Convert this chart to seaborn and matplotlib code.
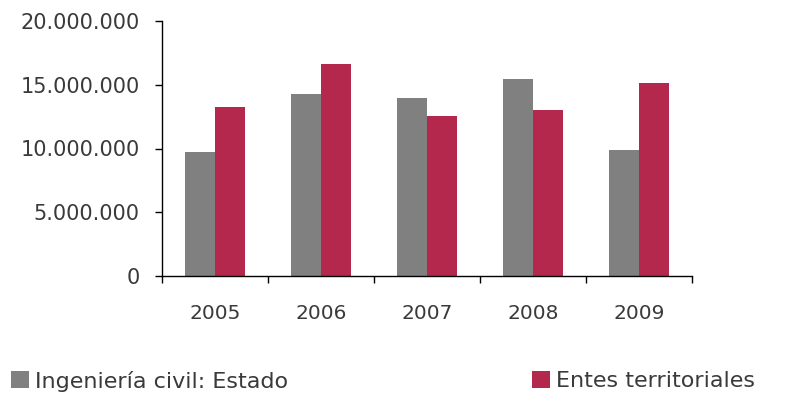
import matplotlib
matplotlib.use("Agg")
import matplotlib.pyplot as plt
import matplotlib.ticker as mticker
import seaborn as sns
import pandas as pd

years = ["2005", "2006", "2007", "2008", "2009"]
estado = [9700000, 14250000, 13960000, 15430000, 9880000]
entes = [13280000, 16630000, 12550000, 13000000, 15140000]
series_names = ["Ingeniería civil: Estado", "Entes territoriales"]
colors = ["#808080", "#B5284D"]

df = pd.DataFrame({
    "year": years * 2,
    "value": estado + entes,
    "serie": [series_names[0]] * len(years) + [series_names[1]] * len(years),
})

sns.set_theme(style="white")
plt.rcParams["font.family"] = ["DejaVu Sans"]

fig = plt.figure(figsize=(7.9, 3.94), dpi=100)
ax = fig.add_axes([162 / 790, 1 - 276 / 394, (692 - 162) / 790, (276 - 21) / 394])

sns.barplot(data=df, x="year", y="value", hue="serie", palette=colors,
            width=0.57, saturation=1, linewidth=0, ax=ax, legend=True)

ax.set_xlim(-0.5, 4.5)
ax.set_ylim(0, 20000000)
ax.set_yticks([0, 5000000, 10000000, 15000000, 20000000])
ax.yaxis.set_major_formatter(mticker.FuncFormatter(lambda v, p: f"{int(v):,}".replace(",", ".")))
ax.set_xlabel("")
ax.set_ylabel("")

for s in ["top", "right"]:
    ax.spines[s].set_visible(False)
for s in ["left", "bottom"]:
    ax.spines[s].set_color("black")
    ax.spines[s].set_linewidth(1.0)

ax.set_xticks([i + 0.5 for i in range(-1, 5)], minor=True)
ax.tick_params(axis="x", which="major", length=0, pad=20, labelsize=14.5, labelcolor="#3a3a3a")
ax.tick_params(axis="x", which="minor", length=5, width=1, color="black", direction="out", bottom=True)
ax.tick_params(axis="y", which="major", length=5, width=1, color="black", direction="out", left=True,
               pad=11, labelsize=15, labelcolor="#3a3a3a")

handles, labels = ax.get_legend_handles_labels()
ax.get_legend().remove()
common = dict(loc="center left", frameon=False, fontsize=16, handlelength=0.8, handleheight=0.8,
              handletextpad=0.3, borderpad=0, borderaxespad=0, labelcolor="#3a3a3a")
fig.legend([handles[0]], [labels[0]], bbox_to_anchor=(11 / 790, 1 - 381 / 394), **common)
fig.legend([handles[1]], [labels[1]], bbox_to_anchor=(532 / 790, 1 - 381 / 394), **common)

fig.savefig("out.png", dpi=100)
